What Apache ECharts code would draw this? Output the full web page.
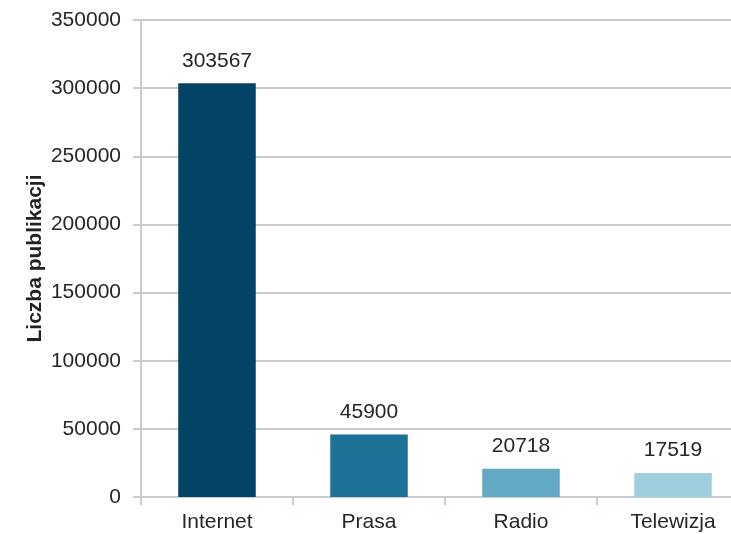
<!DOCTYPE html>
<html><head><meta charset="utf-8">
<script src="https://cdn.jsdelivr.net/npm/echarts@6/dist/echarts.min.js"></script>
<style>html,body{margin:0;padding:0;background:#fff}#c{width:731px;height:534px}</style>
</head><body><div id="c"></div>
<script>
const categories = ["Internet", "Prasa", "Radio", "Telewizja"];
const values = [303567, 45900, 20718, 17519];
const barColors = ["#034466", "#1d7196", "#62a9c4", "#9fcfde"];
const yTicks = {min: 0, max: 350000, interval: 50000};

const chart = echarts.init(document.getElementById('c'), null, {renderer: 'canvas'});
const font = 'Liberation Sans, Arial, sans-serif';
chart.setOption({
  animation: false,
  grid: {left: 141, width: 608, top: 20, bottom: 37, outerBoundsMode: 'none', containLabel: false},
  xAxis: {
    type: 'category', data: categories,
    axisLine: {lineStyle: {color: '#c6ccd0', width: 2}},
    axisTick: {show: true, length: 8, lineStyle: {color: '#c6ccd0', width: 2}},
    axisLabel: {color: '#262626', fontSize: 21, fontFamily: font, margin: 15}
  },
  yAxis: {
    type: 'value', min: yTicks.min, max: yTicks.max, interval: yTicks.interval,
    name: 'Liczba publikacji', nameLocation: 'middle', nameGap: 95, nameMoveOverlap: false,
    nameTextStyle: {color: '#222', fontSize: 21, fontWeight: 'bold', fontFamily: font},
    axisLine: {show: true, lineStyle: {color: '#c6ccd0', width: 2}},
    axisTick: {show: true, length: 8, lineStyle: {color: '#c6ccd0', width: 2}},
    axisLabel: {color: '#262626', fontSize: 21, fontFamily: font, margin: 20, formatter: v => String(v)},
    splitLine: {lineStyle: {color: '#c6ccd0', width: 2}}
  },
  series: [{
    type: 'bar', barWidth: '51%',
    data: values.map((v, i) => ({value: v, itemStyle: {color: barColors[i]}})),
    label: {show: true, position: 'top', distance: 12, color: '#262626', fontSize: 21, fontFamily: font}
  }]
});
</script></body></html>
